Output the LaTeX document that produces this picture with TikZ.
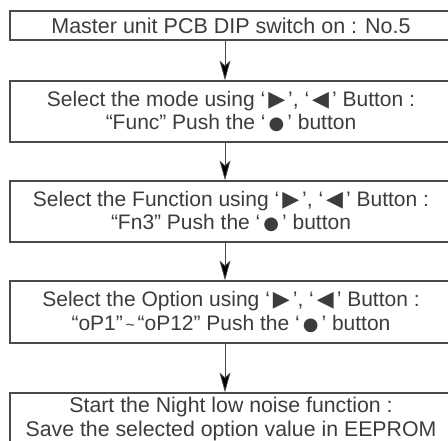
\documentclass[tikz,border=0pt]{standalone}
\usepackage{fontspec}
\setmainfont{Liberation Sans}
\newfontfamily\symf{DejaVu Sans}
\usetikzlibrary{arrows.meta}
\definecolor{txt}{HTML}{3C3C3C}
\definecolor{ln}{HTML}{4A4A4A}
\newcommand{\rt}{\kern3pt{\symf\fontsize{22}{22}\selectfont ▶}\kern3pt}
\newcommand{\lt}{\kern3pt{\symf\fontsize{22}{22}\selectfont ◀}\kern3pt}
\newcommand{\dt}{\kern3pt{\symf\fontsize{18}{18}\selectfont ●}\kern3pt}
\tikzset{
  box/.style={draw=ln, line width=1.2pt, minimum width=442pt, inner sep=0pt,
    text=txt, align=center, font=\fontsize{21}{23.5}\selectfont},
  txtnode/.style={text=txt, align=center, inner sep=0pt, font=\fontsize{21.3}{23.5}\selectfont},
  flow/.style={draw=ln, line width=0.8pt, -{Stealth[length=20pt,width=11pt,inset=5pt,fill=black]}}
}
\begin{document}
\begin{tikzpicture}[x=1pt,y=-1pt]
\useasboundingbox (0,0) rectangle (448,441);
\clip (0,0) rectangle (448,441);
\coordinate (axis) at (225,0);
\node[box, minimum height=29pt, font=\fontsize{21.5}{23.5}\selectfont] (b1) at (231,25.5) {Master unit PCB DIP switch on : No.5};
\node[box, minimum height=61pt] (b2) at (231,111.5) {Select the mode using ‘\rt’, ‘\lt’ Button :\\“Func” Push the ‘\dt’ button};
\node[box, minimum height=61pt] (b3) at (231,211.5) {Select the Function using ‘\rt’, ‘\lt’ Button :\\“Fn3” Push the ‘\dt’ button};
\node[box, minimum height=62pt] (b4) at (231,312) {Select the Option using ‘\rt’, ‘\lt’ Button :\\“oP1”{\fontsize{16}{16}\selectfont\,\textasciitilde\,}“oP12” Push the ‘\dt’ button};
\node[box, minimum height=70pt] (b5) at (231,428) {};
\node[txtnode] (t5) at (231,419) {Start the Night low noise function :\\Save the selected option value in EEPROM};
\draw[flow] (b1.south -| axis) -- (b2.north -| axis);
\draw[flow] (b2.south -| axis) -- (b3.north -| axis);
\draw[flow] (b3.south -| axis) -- (b4.north -| axis);
\draw[flow] (b4.south -| axis) -- (b5.north -| axis);
\end{tikzpicture}
\end{document}
